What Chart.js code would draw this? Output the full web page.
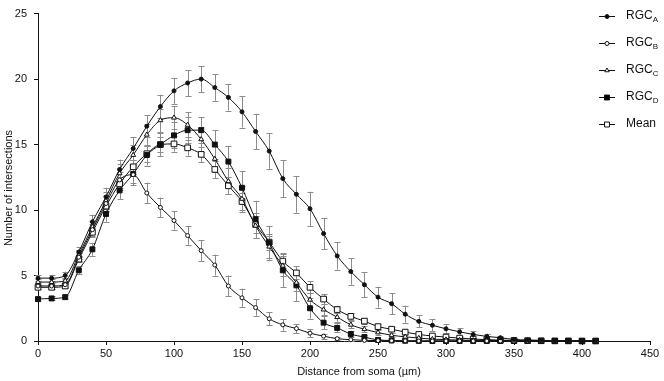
<!DOCTYPE html>
<html>
<head>
<meta charset="utf-8">
<script src="https://cdn.jsdelivr.net/npm/chart.js@4.4.1/dist/chart.umd.min.js"></script>
<style>
    html, body { margin: 0; padding: 0; background: #fff; }
    #wrap { width: 664px; height: 381px; }
</style>
</head>
<body>
<div id="wrap"><canvas id="shollChart" width="664" height="381"></canvas></div>
<script>
// distance from soma (µm)
const distances = [0, 10, 20, 30, 40, 50, 60, 70, 80, 90, 100, 110, 120, 130, 140, 150, 160, 170, 180, 190, 200,
    210, 220, 230, 240, 250, 260, 270, 280, 290, 300, 310, 320, 330, 340, 350, 360, 370, 380, 390, 400, 410];

// number of intersections, one array per cell type
const rgcA = [4.8, 4.8, 5.0, 6.8, 9.1, 11.0, 13.1, 14.7, 16.4, 17.9, 19.1, 19.7, 20.0, 19.35, 18.6, 17.5, 16.0, 14.5, 12.4, 11.2, 10.1,
    8.2, 6.5, 5.3, 4.3, 3.35, 2.85, 2.05, 1.5, 1.2, 0.93, 0.7, 0.5, 0.35, 0.25, 0.12, 0.08, 0.05, 0.03, 0.02, 0.01, 0];
const rgcB = [4.2, 4.2, 4.3, 6.4, 8.5, 10.5, 12.3, 12.7, 11.3, 10.2, 9.2, 8.05, 6.9, 5.8, 4.2, 3.3, 2.55, 1.7, 1.23, 0.95, 0.6,
    0.37, 0.18, 0.1, 0.05, 0.03, 0.02, 0.01, 0, 0, 0, 0, 0, 0, 0, 0, 0, 0, 0, 0, 0, 0];
const rgcC = [4.5, 4.5, 4.6, 6.6, 8.7, 10.7, 12.8, 14.2, 15.75, 16.85, 17.05, 16.5, 15.4, 13.9, 12.2, 10.85, 8.8, 7.2, 5.75, 4.45, 3.15,
    2.4, 1.82, 1.24, 0.9, 0.65, 0.44, 0.32, 0.22, 0.14, 0.1, 0.07, 0.05, 0.03, 0.02, 0.01, 0, 0, 0, 0, 0, 0];
const rgcD = [3.2, 3.25, 3.35, 5.4, 7.0, 9.7, 11.5, 12.75, 14.2, 15.0, 15.7, 16.1, 16.1, 15.0, 13.7, 11.7, 9.3, 7.5, 5.4, 4.25, 2.5,
    1.4, 1.0, 0.53, 0.3, 0.08, 0.04, 0.02, 0.01, 0, 0, 0, 0, 0, 0, 0, 0, 0, 0, 0, 0, 0];
const meanAll = [4.1, 4.1, 4.2, 6.25, 8.3, 10.3, 12.0, 13.3, 14.3, 15.0, 15.05, 14.75, 14.25, 13.1, 11.85, 10.65, 8.9, 7.55, 6.1, 5.2, 4.1,
    3.2, 2.4, 1.88, 1.52, 1.1, 0.9, 0.68, 0.5, 0.38, 0.3, 0.22, 0.15, 0.1, 0.07, 0.04, 0.03, 0.02, 0.01, 0.01, 0, 0];

// error bar half-lengths
const errA = [0.25, 0.25, 0.3, 0.35, 0.55, 0.7, 0.75, 0.85, 0.85, 0.9, 1.0, 1.0, 1.0, 1.0, 1.0, 1.2, 1.35, 1.35, 1.4, 1.4, 1.3,
    1.2, 1.05, 1.0, 0.95, 0.8, 0.8, 0.65, 0.45, 0.45, 0.35, 0.3, 0.28, 0.22, 0.15, 0.1, 0.06, 0.04, 0.03, 0.02, 0.01, 0];
const errB = [0.2, 0.2, 0.2, 0.3, 0.45, 0.55, 0.6, 0.8, 0.8, 0.75, 0.7, 0.7, 0.8, 0.8, 0.8, 0.7, 0.62, 0.5, 0.45, 0.35, 0.3,
    0.2, 0.12, 0.08, 0.05, 0.03, 0.02, 0.01, 0, 0, 0, 0, 0, 0, 0, 0, 0, 0, 0, 0, 0, 0];
const errC = [0.2, 0.2, 0.2, 0.35, 0.5, 0.65, 0.7, 0.8, 0.85, 0.9, 0.9, 0.95, 0.95, 1.0, 1.0, 1.0, 0.95, 0.85, 0.75, 0.65, 0.55,
    0.45, 0.35, 0.28, 0.22, 0.18, 0.15, 0.12, 0.1, 0.08, 0.06, 0.05, 0.04, 0.03, 0.02, 0.01, 0, 0, 0, 0, 0, 0];
const errD = [0.15, 0.15, 0.15, 0.3, 0.5, 0.6, 0.65, 0.7, 0.8, 0.9, 1.0, 1.0, 1.0, 1.1, 1.2, 1.25, 1.4, 1.3, 1.3, 1.2, 0.8,
    0.5, 0.35, 0.25, 0.15, 0.08, 0.05, 0.03, 0.02, 0, 0, 0, 0, 0, 0, 0, 0, 0, 0, 0, 0, 0];
const errMean = [0.15, 0.15, 0.15, 0.25, 0.35, 0.45, 0.5, 0.55, 0.6, 0.6, 0.6, 0.6, 0.6, 0.65, 0.65, 0.65, 0.65, 0.6, 0.55, 0.5, 0.45,
    0.4, 0.3, 0.25, 0.2, 0.17, 0.15, 0.12, 0.1, 0.08, 0.07, 0.06, 0.05, 0.04, 0.03, 0.02, 0.01, 0.01, 0, 0, 0, 0];

const xTicks = [0, 50, 100, 150, 200, 250, 300, 350, 400, 450];
const yTicks = [0, 5, 10, 15, 20, 25];

const FONT = "'Liberation Sans', Arial, sans-serif";

// legend entries: main text + subscript
const legendItems = [
    { text: 'RGC', sub: 'A', style: 'circle', radius: 2, fill: '#000' },
    { text: 'RGC', sub: 'B', style: 'circle', radius: 2, fill: '#fff' },
    { text: 'RGC', sub: 'C', style: 'triangle', radius: 2.5, fill: '#fff' },
    { text: 'RGC', sub: 'D', style: 'rect', radius: 3.5, fill: '#000' },
    { text: 'Mean', sub: '', style: 'rect', radius: 3.5, fill: '#fff' }
];

function toPoints(values) {
    return distances.map((d, i) => ({ x: d, y: values[i] }));
}

function series(label, values, errors, style, radius, fill) {
    return {
        label: label,
        data: toPoints(values),
        errors: errors,
        borderColor: '#111',
        borderWidth: 1,
        pointStyle: style,
        pointRadius: radius,
        pointBackgroundColor: fill,
        pointBorderColor: '#111',
        pointBorderWidth: 1,
        cubicInterpolationMode: 'monotone',
        clip: false
    };
}

// grey error bars with caps, drawn under the lines
const errorBars = {
    id: 'errorBars',
    beforeDatasetsDraw(chart) {
        const { ctx } = chart;
        const yScale = chart.scales.y;
        ctx.save();
        ctx.strokeStyle = '#8c8c8c';
        ctx.lineWidth = 1;
        chart.data.datasets.forEach((ds, i) => {
            const meta = chart.getDatasetMeta(i);
            meta.data.forEach((pt, j) => {
                const e = ds.errors[j];
                if (!e) return;
                const v = ds.data[j].y;
                const top = yScale.getPixelForValue(v + e);
                const bot = yScale.getPixelForValue(v - e);
                const x = Math.round(pt.x) + 0.5;
                ctx.beginPath();
                ctx.moveTo(x, top);
                ctx.lineTo(x, bot);
                ctx.moveTo(x - 3, Math.round(top) + 0.5);
                ctx.lineTo(x + 3, Math.round(top) + 0.5);
                ctx.moveTo(x - 3, Math.round(bot) + 0.5);
                ctx.lineTo(x + 3, Math.round(bot) + 0.5);
                ctx.stroke();
            });
        });
        ctx.restore();
    }
};

// legend with subscripts and axis titles
const annotations = {
    id: 'annotations',
    afterDraw(chart) {
        const { ctx } = chart;
        ctx.save();
        ctx.fillStyle = '#111';
        ctx.font = `11px ${FONT}`;
        ctx.textAlign = 'center';
        ctx.textBaseline = 'middle';
        ctx.fillText('Distance from soma (µm)', 359, 372);

        ctx.save();
        ctx.translate(9, 188);
        ctx.rotate(-Math.PI / 2);
        ctx.fillText('Number of intersections', 0, 0);
        ctx.restore();

        legendItems.forEach((item, i) => {
            const y = 16 + i * 27;
            ctx.strokeStyle = '#111';
            ctx.lineWidth = 1;
            ctx.beginPath();
            ctx.moveTo(599, y + 0.5);
            ctx.lineTo(615, y + 0.5);
            ctx.stroke();
            ctx.fillStyle = item.fill;
            Chart.helpers.drawPoint(ctx, { pointStyle: item.style, radius: item.radius, rotation: 0, borderWidth: 1 }, 607, y + 0.5);

            ctx.fillStyle = '#111';
            ctx.textAlign = 'left';
            ctx.font = `12px ${FONT}`;
            ctx.fillText(item.text, 626, y);
            if (item.sub) {
                const w = ctx.measureText(item.text).width;
                ctx.font = `8px ${FONT}`;
                ctx.fillText(item.sub, 626 + w, y + 4);
            }
        });
        ctx.restore();
    }
};

new Chart(document.getElementById('shollChart'), {
    type: 'line',
    data: {
        datasets: [
            series('RGC A', rgcA, errA, 'circle', 2, '#111'),
            series('RGC B', rgcB, errB, 'circle', 2, '#fff'),
            series('RGC C', rgcC, errC, 'triangle', 2.8, '#fff'),
            series('RGC D', rgcD, errD, 'rect', 3.5, '#111'),
            series('Mean', meanAll, errMean, 'rect', 4, '#fff')
        ]
    },
    options: {
        responsive: false,
        animation: false,
        layout: { padding: { top: 7, right: 14, left: 0, bottom: 0 } },
        plugins: {
            legend: { display: false },
            tooltip: { enabled: false }
        },
        scales: {
            x: {
                type: 'linear',
                min: 0,
                max: 450,
                afterBuildTicks: scale => { scale.ticks = xTicks.map(v => ({ value: v })); },
                afterFit: scale => { scale.height = 40; },
                ticks: { color: '#111', font: { family: FONT, size: 11 }, padding: 2, maxRotation: 0 },
                grid: { drawOnChartArea: false, drawTicks: true, tickLength: 4, color: '#111' },
                border: { color: '#111', width: 1 }
            },
            y: {
                type: 'linear',
                min: 0,
                max: 25,
                afterBuildTicks: scale => { scale.ticks = yTicks.map(v => ({ value: v })); },
                afterFit: scale => { scale.width = 38; },
                ticks: { color: '#111', font: { family: FONT, size: 11 }, padding: 7 },
                grid: { drawOnChartArea: false, drawTicks: true, tickLength: 4, color: '#111' },
                border: { color: '#111', width: 1 }
            }
        }
    },
    plugins: [errorBars, annotations]
});
</script>
</body>
</html>
